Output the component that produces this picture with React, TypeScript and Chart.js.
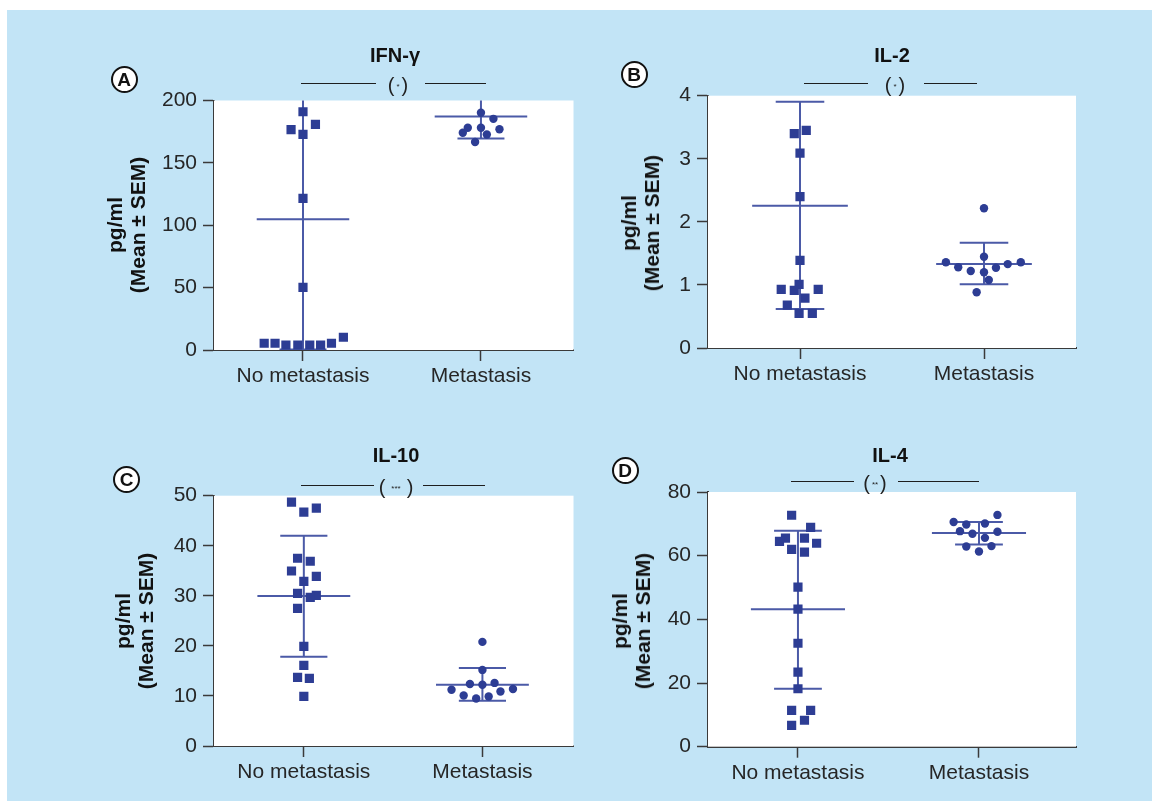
import React, { useEffect, useRef } from "react";
import { Chart, registerables } from "chart.js";

Chart.register(...registerables);

// ---------------- data ----------------
const groups = ["No metastasis", "Metastasis"];

// A: IFN-γ
const ifnTicks = [0, 50, 100, 150, 200];
const ifnNoMet = [191, 176.6, 180.8, 172.8, 121.5, 50.2, 5.4, 5.4, 4.0, 4.0, 4.0, 4.0, 5.4, 10.2];
const ifnNoMetJitter = [0, -0.067, 0.07, 0, 0, 0, -0.218, -0.157, -0.096, -0.029, 0.038, 0.099, 0.16, 0.227];
const ifnMet = [190.2, 185.3, 178.1, 178.1, 177.0, 174.1, 172.8, 166.7];
const ifnMetJitter = [0, 0.07, -0.074, 0, 0.104, -0.102, 0.033, -0.033];
const ifnMean = [104.8, 187.2];
const ifnLow = [0.5, 169.6];
const ifnHigh = [209, 205];

// B: IL-2
const il2Ticks = [0, 1, 2, 3, 4];
const il2NoMet = [3.4, 3.45, 3.09, 2.4, 1.39, 1.01, 0.93, 0.915, 0.93, 0.79, 0.68, 0.55, 0.55];
const il2NoMetJitter = [-0.031, 0.034, 0, 0, 0, -0.005, -0.102, -0.031, 0.099, 0.027, -0.069, -0.005, 0.067];
const il2Met = [2.215, 1.359, 1.28, 1.22, 1.448, 1.2, 1.273, 1.33, 1.359, 1.078, 0.883];
const il2MetJitter = [0, -0.207, -0.14, -0.072, 0, 0, 0.065, 0.129, 0.2, 0.026, -0.04];
const il2Mean = [2.256, 1.332];
const il2Low = [0.618, 1.01];
const il2High = [3.905, 1.67];

// C: IL-10
const il10Ticks = [0, 10, 20, 30, 40, 50];
const il10NoMet = [48.7, 47.5, 46.7, 37.5, 36.9, 34.96, 33.9, 32.9, 30.5, 30.1, 29.7, 27.5, 19.9, 16.1, 13.7, 13.5, 9.9];
const il10NoMetJitter = [-0.069, 0.07, 0, -0.035, 0.036, -0.069, 0.07, 0, -0.035, 0.07, 0.036, -0.035, 0, 0, -0.035, 0.031, 0];
const il10Met = [20.8, 15.2, 12.4, 12.25, 12.6, 11.25, 11.4, 10.9, 10.1, 9.9, 9.5];
const il10MetJitter = [0, 0, -0.07, 0, 0.068, -0.173, 0.171, 0.101, -0.105, 0.035, -0.035];
const il10Mean = [29.96, 12.25];
const il10Low = [17.84, 9.06];
const il10High = [42.0, 15.6];

// D: IL-4
const il4Ticks = [0, 20, 40, 60, 80];
const il4NoMet = [72.7, 68.9, 65.5, 65.5, 64.5, 63.9, 62.0, 61.1, 50.1, 43.2, 32.5, 23.4, 18.2, 11.4, 11.4, 8.3, 6.7];
const il4NoMetJitter = [-0.035, 0.07, -0.069, 0.036, -0.102, 0.103, -0.035, 0.036, 0, 0, 0, 0, 0, -0.035, 0.07, 0.036, -0.035];
const il4Met = [72.8, 70.6, 69.8, 70.1, 67.7, 66.9, 67.5, 65.6, 62.9, 63.0, 61.3];
const il4MetJitter = [0.102, -0.14, -0.07, 0.033, -0.105, -0.036, 0.102, 0.033, -0.07, 0.069, 0];
const il4Mean = [43.2, 67.1];
const il4Low = [18.2, 63.5];
const il4High = [67.8, 70.6];

// ---------------- layout / style ----------------
const CANVAS_W = 580;
const CANVAS_H = 405;
const Y_AXIS_W = 100;
const X_AXIS_H = 40;
const MEAN_HALF = 0.26;
const CAP_HALF = 0.132;
const POINT_COLOR = "#2d3d94";
const LINE_COLOR = "#4b5aa7";
const AXIS_COLOR = "#3a3a3a";
const TEXT_COLOR = "#262626";
const FONT = "'Liberation Sans', Arial, Helvetica, sans-serif";

const panels = [
  {
    letter: "A", title: "IFN-γ", stars: "*",
    noMet: ifnNoMet, noMetJitter: ifnNoMetJitter, met: ifnMet, metJitter: ifnMetJitter,
    mean: ifnMean, low: ifnLow, high: ifnHigh, ticks: ifnTicks,
    xMin: 0.5, xMax: 2.52,
    canvas: { left: 0, top: 0 },
    area: { left: 214, top: 100.5, right: 577, bottom: 350 },
    letterPos: [124, 79], titlePos: [395, 54.5], yTitlePos: [126, 225],
    sig: { y: 83.7, l: [301, 376], r: [425, 486], x: 398, starSize: 8 },
  },
  {
    letter: "B", title: "IL-2", stars: "*",
    noMet: il2NoMet, noMetJitter: il2NoMetJitter, met: il2Met, metJitter: il2MetJitter,
    mean: il2Mean, low: il2Low, high: il2High, ticks: il2Ticks,
    xMin: 0.5, xMax: 2.5,
    canvas: { left: 580, top: 0 },
    area: { left: 708, top: 95.7, right: 1076, bottom: 348 },
    letterPos: [634, 74], titlePos: [892, 54.5], yTitlePos: [639.5, 223],
    sig: { y: 83.7, l: [804, 868], r: [924, 977], x: 895, starSize: 8 },
  },
  {
    letter: "C", title: "IL-10", stars: "***",
    noMet: il10NoMet, noMetJitter: il10NoMetJitter, met: il10Met, metJitter: il10MetJitter,
    mean: il10Mean, low: il10Low, high: il10High, ticks: il10Ticks,
    xMin: 0.497, xMax: 2.51,
    canvas: { left: 0, top: 405 },
    area: { left: 214, top: 495.7, right: 577, bottom: 746 },
    letterPos: [126.7, 479], titlePos: [396, 454.7], yTitlePos: [133.5, 621],
    sig: { y: 485.7, l: [301, 374], r: [423, 485], x: 396, starSize: 8 },
  },
  {
    letter: "D", title: "IL-4", stars: "**",
    noMet: il4NoMet, noMetJitter: il4NoMetJitter, met: il4Met, metJitter: il4MetJitter,
    mean: il4Mean, low: il4Low, high: il4High, ticks: il4Ticks,
    xMin: 0.503, xMax: 2.536,
    canvas: { left: 580, top: 405 },
    area: { left: 708, top: 492, right: 1076, bottom: 746.7 },
    letterPos: [625, 470], titlePos: [890, 454.5], yTitlePos: [631, 621],
    sig: { y: 481.7, l: [791, 854], r: [898, 979], x: 875, starSize: 8 },
  },
];

const whiteArea = {
  id: "whiteArea",
  beforeDatasetsDraw(chart: any) {
    const { ctx, chartArea } = chart;
    ctx.save();
    ctx.fillStyle = "#ffffff";
    ctx.fillRect(chartArea.left, chartArea.top, chartArea.right - chartArea.left, chartArea.bottom - chartArea.top);
    ctx.restore();
  },
};

function buildSegments(p: any) {
  const pts: any[] = [];
  for (let g = 0; g < 2; g++) {
    const c = g + 1;
    const m = p.mean[g], lo = p.low[g], hi = p.high[g];
    pts.push({ x: c - MEAN_HALF, y: m }, { x: c + MEAN_HALF, y: m }, { x: c, y: null });
    pts.push({ x: c - CAP_HALF, y: hi }, { x: c + CAP_HALF, y: hi }, { x: c, y: null });
    pts.push({ x: c - CAP_HALF, y: lo }, { x: c + CAP_HALF, y: lo }, { x: c, y: null });
    pts.push({ x: c, y: lo }, { x: c, y: hi }, { x: c, y: null });
  }
  return pts;
}

function PanelChart({ p }: { p: any }) {
  const ref = useRef<HTMLCanvasElement>(null);
  useEffect(() => {
    if (!ref.current) return;
    const pad = {
      left: p.area.left - p.canvas.left - Y_AXIS_W,
      top: p.area.top - p.canvas.top,
      right: p.canvas.left + CANVAS_W - p.area.right,
      bottom: p.canvas.top + CANVAS_H - p.area.bottom - X_AXIS_H,
    };
    const tickFont = { family: FONT, size: 21 };
    const chart = new Chart(ref.current, {
      type: "scatter",
      data: {
        datasets: [
          {
            data: p.noMet.map((v: number, i: number) => ({ x: 1 + p.noMetJitter[i], y: v })),
            pointStyle: "rect",
            pointRadius: 6.5,
            pointBackgroundColor: POINT_COLOR,
            pointBorderColor: POINT_COLOR,
            pointBorderWidth: 0,
          },
          {
            data: p.met.map((v: number, i: number) => ({ x: 2 + p.metJitter[i], y: v })),
            pointStyle: "circle",
            pointRadius: 4.2,
            pointBackgroundColor: POINT_COLOR,
            pointBorderColor: POINT_COLOR,
            pointBorderWidth: 0,
          },
          {
            data: buildSegments(p),
            showLine: true,
            spanGaps: false,
            pointRadius: 0,
            borderColor: LINE_COLOR,
            borderWidth: 2,
          } as any,
        ],
      },
      options: {
        animation: false,
        responsive: false,
        devicePixelRatio: 1,
        events: [],
        layout: { padding: pad },
        plugins: { legend: { display: false }, tooltip: { enabled: false } },
        scales: {
          x: {
            type: "linear",
            min: p.xMin,
            max: p.xMax,
            afterFit: (s: any) => { s.height = X_AXIS_H; },
            afterBuildTicks: (s: any) => { s.ticks = [{ value: 1 }, { value: 2 }]; },
            ticks: {
              callback: (v: any) => groups[Math.round(v) - 1],
              font: tickFont,
              color: TEXT_COLOR,
              padding: 3,
              maxRotation: 0,
              autoSkip: false,
            },
            grid: { drawOnChartArea: false, drawTicks: true, tickLength: 11, tickColor: AXIS_COLOR, tickWidth: 1.5 },
            border: { display: true, color: AXIS_COLOR, width: 2 },
          },
          y: {
            type: "linear",
            min: p.ticks[0],
            max: p.ticks[p.ticks.length - 1],
            afterFit: (s: any) => { s.width = Y_AXIS_W; },
            afterBuildTicks: (s: any) => { s.ticks = p.ticks.map((v: number) => ({ value: v })); },
            ticks: { font: tickFont, color: TEXT_COLOR, padding: 6 },
            grid: { drawOnChartArea: false, drawTicks: true, tickLength: 11, tickColor: AXIS_COLOR, tickWidth: 1.5 },
            border: { display: true, color: AXIS_COLOR, width: 2 },
          },
        },
      } as any,
      plugins: [whiteArea],
    });
    return () => chart.destroy();
  }, [p]);
  return (
    <canvas
      ref={ref}
      width={CANVAS_W}
      height={CANVAS_H}
      style={{ position: "absolute", left: p.canvas.left, top: p.canvas.top, width: CANVAS_W, height: CANVAS_H, display: "block" }}
    />
  );
}

function Overlay({ p }: { p: any }) {
  const [lx, ly] = p.letterPos;
  const [tx, ty] = p.titlePos;
  const [yx, yy] = p.yTitlePos;
  const s = p.sig;
  const lineStyle = (a: number[]) => ({
    position: "absolute" as const,
    left: a[0],
    top: s.y - 1,
    width: a[1] - a[0],
    height: 1.6,
    background: "#1e1e1e",
  });
  return (
    <>
      <div
        style={{
          position: "absolute", left: lx - 13.5, top: ly - 13.5, width: 27, height: 27,
          boxSizing: "border-box", border: "2px solid #111", borderRadius: "50%", background: "#fff",
          display: "flex", alignItems: "center", justifyContent: "center",
          fontFamily: FONT, fontWeight: 700, fontSize: 19, color: "#111", lineHeight: 1,
        }}
      >
        {p.letter}
      </div>
      <div
        style={{
          position: "absolute", left: tx, top: ty, transform: "translate(-50%, -50%)",
          fontFamily: FONT, fontWeight: 700, fontSize: 20, color: "#111", whiteSpace: "nowrap", lineHeight: "24px",
        }}
      >
        {p.title}
      </div>
      <div style={lineStyle(s.l)} />
      <div style={lineStyle(s.r)} />
      <div
        style={{
          position: "absolute", left: s.x, top: s.y + 1.5, transform: "translate(-50%, -50%)",
          fontFamily: FONT, fontSize: 20, color: "#222", whiteSpace: "nowrap", lineHeight: 1,
          display: "flex", alignItems: "center",
        }}
      >
        <span>(</span>
        <span style={{ fontSize: s.starSize, position: "relative", top: 2, margin: p.stars.length > 2 ? "0 6px" : "0 2px" }}>
          {p.stars}
        </span>
        <span>)</span>
      </div>
      <div
        style={{
          position: "absolute", left: yx, top: yy, transform: "translate(-50%, -50%) rotate(-90deg)",
          fontFamily: FONT, fontWeight: 700, fontSize: 21, color: "#111", whiteSpace: "nowrap",
          lineHeight: "23px", textAlign: "center",
        }}
      >
        <div>pg/ml</div>
        <div>(Mean ± SEM)</div>
      </div>
    </>
  );
}

export default function App() {
  return (
    <div style={{ position: "absolute", left: 0, top: 0, width: 1160, height: 810, background: "#ffffff", overflow: "hidden" }}>
      <div style={{ position: "absolute", left: 7, top: 10, width: 1145, height: 791, background: "#c2e4f6" }} />
      {panels.map((p) => (
        <PanelChart key={"c" + p.letter} p={p} />
      ))}
      {panels.map((p) => (
        <Overlay key={"o" + p.letter} p={p} />
      ))}
    </div>
  );
}
